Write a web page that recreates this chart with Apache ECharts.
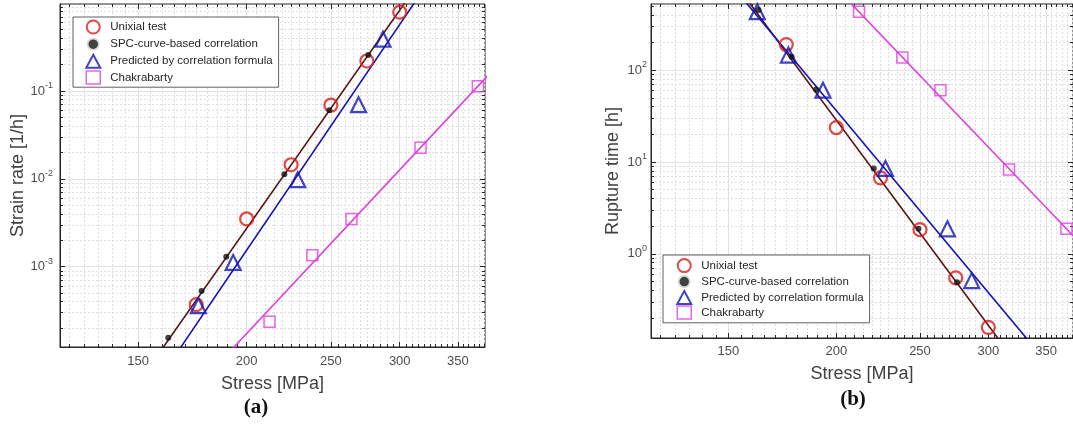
<!DOCTYPE html>
<html><head><meta charset="utf-8">
<script src="https://cdn.jsdelivr.net/npm/echarts@6/dist/echarts.min.js"></script>
<style>html,body{margin:0;padding:0;background:#fff}#c{width:1073px;height:427px}</style>
</head><body><div id="c"></div>
<script>
// ---------- data ----------
const legendNames = ['Unixial test', 'SPC-curve-based correlation', 'Predicted by correlation formula', 'Chakrabarty'];

// Panel (a): strain rate [1/h] vs stress [MPa]
const stressTest = [175, 200, 225, 250, 275, 300];
const rateTest = [3.7e-4, 3.5e-3, 0.0145, 0.069, 0.22, 0.79];
const stressSPC = [162.5, 177.5, 189.5, 221, 249, 276];
const rateSPC = [1.55e-4, 5.3e-4, 1.3e-3, 0.0113, 0.0605, 0.257];
const stressPredA = [176, 193, 229, 269, 287];
const ratePred = [3.6e-4, 1.12e-3, 9.8e-3, 0.07, 0.39];
const stressChak = [212.5, 238, 264, 317, 369];
const rateChak = [2.36e-4, 1.35e-3, 3.5e-3, 0.0226, 0.1135];
// fitted lines (a): end points
const fitSPCaStress = [155, 315], fitSPCaRate = [7.5e-5, 1.66];
const fitPredaStress = [163, 320], fitPredaRate = [7.8e-5, 1.47];
const fitChakaStress = [185, 385], fitChakaRate = [7.6e-5, 0.178];

// Panel (b): rupture time [h] vs stress [MPa]
const timeTest = [190, 23.7, 6.7, 1.83, 0.547, 0.158];
const timeSPC = [452, 140, 61.5, 8.46, 1.87, 0.49];
const stressPredB = [162, 176, 193, 228, 269, 287];
const timePred = [433, 146, 60.5, 8.5, 1.87, 0.51];
const stressChakB = [212.5, 238.5, 264, 317, 369.5];
const timeChak = [433, 137.5, 60.5, 8.3, 1.87];
// fitted lines (b): end points
const fitSPCbStress = [150, 320], fitSPCbTime = [1099, 0.0733];
const fitPredbStress = [150, 345], fitPredbTime = [922, 0.0785];
const fitChakbStress = [200, 385], fitChakbTime = [781, 1.25];

// axis ranges and tick labels
const X_MIN = 122, X_MAX = 376;
const xMajor = [150, 200, 250, 300, 350];
const xMinor = []; for (let s = 125; s <= 375; s += 5) xMinor.push(s);
const yRangeA = [1.22e-4, 0.98];
const yRangeB = [0.121, 525];
const yMajorA = [1e-3, 1e-2, 1e-1];
const yMajorB = [1, 10, 100];
const yMinor = []; for (let e = -5; e <= 3; e++) for (let m = 2; m <= 9; m++) yMinor.push(+(m * Math.pow(10, e)).toPrecision(3));

// ---------- helpers ----------
const zip = (a, b) => a.map((v, i) => [v, b[i]]);
const AX = '#262626', LBL = '#4d4d4d', NAMEC = '#404040';
const FONT = '"Liberation Sans", Arial, Helvetica, sans-serif';

function xAxes(g, nameGap, labelMargin) {
  const base = { type: 'log', logBase: 10, gridIndex: g, min: X_MIN, max: X_MAX };
  const tickLS = { color: AX, width: 1 };
  return [
    Object.assign({}, base, {
      position: 'bottom', name: 'Stress [MPa]', nameLocation: 'middle', nameGap: nameGap,
      nameTextStyle: { fontSize: 18, color: NAMEC, fontFamily: FONT },
      axisLine: { show: true, lineStyle: { color: AX, width: 1 } },
      axisTick: { show: true, inside: true, length: 5, customValues: xMajor, lineStyle: tickLS },
      axisLabel: { show: true, customValues: xMajor, formatter: v => String(Math.round(v)), fontSize: 13, color: LBL, margin: labelMargin, fontFamily: FONT },
      splitLine: { show: true, lineStyle: { color: '#e2e2e2', width: 1 } }
    }),
    Object.assign({}, base, {
      position: 'bottom', axisLine: { show: false },
      axisTick: { show: true, inside: true, length: 3, customValues: xMinor, lineStyle: tickLS },
      axisLabel: { show: false },
      splitLine: { show: true, lineStyle: { color: '#dedede', width: 1, type: [2, 2] } }
    }),
    Object.assign({}, base, {
      position: 'top', axisLine: { show: false },
      axisTick: { show: true, inside: true, length: 5, customValues: xMajor, lineStyle: tickLS },
      axisLabel: { show: false }, splitLine: { show: false }
    }),
    Object.assign({}, base, {
      position: 'top', axisLine: { show: false },
      axisTick: { show: true, inside: true, length: 3, customValues: xMinor, lineStyle: tickLS },
      axisLabel: { show: false }, splitLine: { show: false }
    })
  ];
}

function yAxes(g, range, major, name, nameGap, labelMargin) {
  const base = { type: 'log', logBase: 10, gridIndex: g, min: range[0], max: range[1] };
  const tickLS = { color: AX, width: 1 };
  return [
    Object.assign({}, base, {
      position: 'left', name: name, nameLocation: 'middle', nameGap: nameGap,
      nameTextStyle: { fontSize: 18, color: NAMEC, fontFamily: FONT },
      axisLine: { show: true, lineStyle: { color: AX, width: 1 } },
      axisTick: { show: true, inside: true, length: 5, customValues: major, lineStyle: tickLS },
      axisLabel: {
        show: true, customValues: major, margin: labelMargin,
        formatter: v => '{b|10}{s|' + Math.round(Math.log10(v)) + '}',
        rich: {
          b: { fontSize: 13, lineHeight: 20, color: LBL, fontFamily: FONT },
          s: { fontSize: 9, lineHeight: 10, verticalAlign: 'top', color: LBL, fontFamily: FONT }
        }
      },
      splitLine: { show: true, lineStyle: { color: '#e2e2e2', width: 1 } }
    }),
    Object.assign({}, base, {
      position: 'left', axisLine: { show: false },
      axisTick: { show: true, inside: true, length: 3, customValues: yMinor, lineStyle: tickLS },
      axisLabel: { show: false },
      splitLine: { show: true, lineStyle: { color: '#dedede', width: 1, type: [2, 2] } }
    }),
    Object.assign({}, base, {
      position: 'right', axisLine: { show: false },
      axisTick: { show: true, inside: true, length: 5, customValues: major, lineStyle: tickLS },
      axisLabel: { show: false }, splitLine: { show: false }
    }),
    Object.assign({}, base, {
      position: 'right', axisLine: { show: false },
      axisTick: { show: true, inside: true, length: 3, customValues: yMinor, lineStyle: tickLS },
      axisLabel: { show: false }, splitLine: { show: false }
    })
  ];
}

const RED = '#dc1a1a', BLUE = '#1414b4', MAG = '#e040e0', DARK = '#561414';
function markerSeries(ax, xs, ys, kind) {
  const common = { type: 'scatter', xAxisIndex: ax, yAxisIndex: ax, data: zip(xs, ys), z: 5, symbolKeepAspect: true };
  if (kind === 0) return Object.assign(common, { name: legendNames[0], symbol: 'circle', symbolSize: 13, itemStyle: { color: 'rgba(0,0,0,0)', borderColor: RED, borderWidth: 2.2 } });
  if (kind === 1) return Object.assign(common, { name: legendNames[1], symbol: 'circle', symbolSize: 6, z: 6, itemStyle: { color: '#111' } });
  if (kind === 2) return Object.assign(common, { name: legendNames[2], symbol: 'triangle', symbolSize: 15, itemStyle: { color: 'rgba(0,0,0,0)', borderColor: BLUE, borderWidth: 2.2 } });
  return Object.assign(common, { name: legendNames[3], symbol: 'rect', symbolSize: 11, itemStyle: { color: 'rgba(0,0,0,0)', borderColor: MAG, borderWidth: 1.5 } });
}
function fitLine(ax, xs, ys, color, id) {
  return { type: 'line', id: id, xAxisIndex: ax, yAxisIndex: ax, data: zip(xs, ys), symbol: 'none', silent: true, clip: true, z: 3,
    lineStyle: { color: color, width: 1.6 }, emphasis: { disabled: true } };
}

function legendAt(left, top, gap, pad) {
  return {
    data: [
      { name: legendNames[0] },
      { name: legendNames[1], itemStyle: { borderColor: '#fff', borderWidth: 3.5 } },
      { name: legendNames[2] },
      { name: legendNames[3], itemStyle: { borderColor: MAG, borderWidth: 1.5, color: 'rgba(0,0,0,0)' } }
    ],
    orient: 'vertical', left: left, top: top, itemWidth: 14, itemHeight: 13, itemGap: gap, symbolKeepAspect: true,
    padding: pad, backgroundColor: '#fff', borderColor: '#3a3a3a', borderWidth: 0.8, selectedMode: false,
    textStyle: { fontSize: 11.5, lineHeight: 13, color: '#262626', fontFamily: FONT, padding: [0, 0, 0, 5] }, z: 10
  };
}

const chart = echarts.init(document.getElementById('c'), null, { renderer: 'canvas' });
chart.setOption({
  animation: false,
  backgroundColor: '#fff',
  textStyle: { fontFamily: FONT },
  grid: [
    { left: 60, top: 4, width: 425, height: 343, show: true, borderColor: AX, borderWidth: 1, backgroundColor: 'rgba(0,0,0,0)' },
    { left: 651, top: 4, width: 425, height: 334, show: true, borderColor: AX, borderWidth: 1, backgroundColor: 'rgba(0,0,0,0)' }
  ],
  xAxis: xAxes(0, 28, 8).concat(xAxes(1, 27, 7)),
  yAxis: yAxes(0, yRangeA, yMajorA, 'Strain rate [1/h]', 25, 7).concat(yAxes(1, yRangeB, yMajorB, 'Rupture time [h]', 29, 4)),
  legend: [legendAt(73, 17, 1.4, [2.5, 6, 2.5, 12]), legendAt(663, 255, 0.2, [3.1, 6, 3.1, 13])],
  series: [
    fitLine(0, fitSPCaStress, fitSPCaRate, DARK, 'la1'),
    fitLine(0, fitPredaStress, fitPredaRate, BLUE, 'la2'),
    fitLine(0, fitChakaStress, fitChakaRate, MAG, 'la3'),
    markerSeries(0, stressTest, rateTest, 0),
    markerSeries(0, stressSPC, rateSPC, 1),
    markerSeries(0, stressPredA, ratePred, 2),
    markerSeries(0, stressChak, rateChak, 3),
    fitLine(4, fitSPCbStress, fitSPCbTime, DARK, 'lb1'),
    fitLine(4, fitPredbStress, fitPredbTime, BLUE, 'lb2'),
    fitLine(4, fitChakbStress, fitChakbTime, MAG, 'lb3'),
    markerSeries(4, stressTest, timeTest, 0),
    markerSeries(4, stressSPC, timeSPC, 1),
    markerSeries(4, stressPredB, timePred, 2),
    markerSeries(4, stressChakB, timeChak, 3)
  ],
  graphic: [
    { type: 'text', x: 256, y: 408, style: { text: '(a)', fill: '#111', font: 'bold 21px "Liberation Serif", "Times New Roman", serif', align: 'center', verticalAlign: 'middle', textAlign: 'center', textVerticalAlign: 'middle' } },
    { type: 'text', x: 853, y: 400, style: { text: '(b)', fill: '#111', font: 'bold 21px "Liberation Serif", "Times New Roman", serif', align: 'center', verticalAlign: 'middle', textAlign: 'center', textVerticalAlign: 'middle' } }
  ]
});
</script>
</body></html>
